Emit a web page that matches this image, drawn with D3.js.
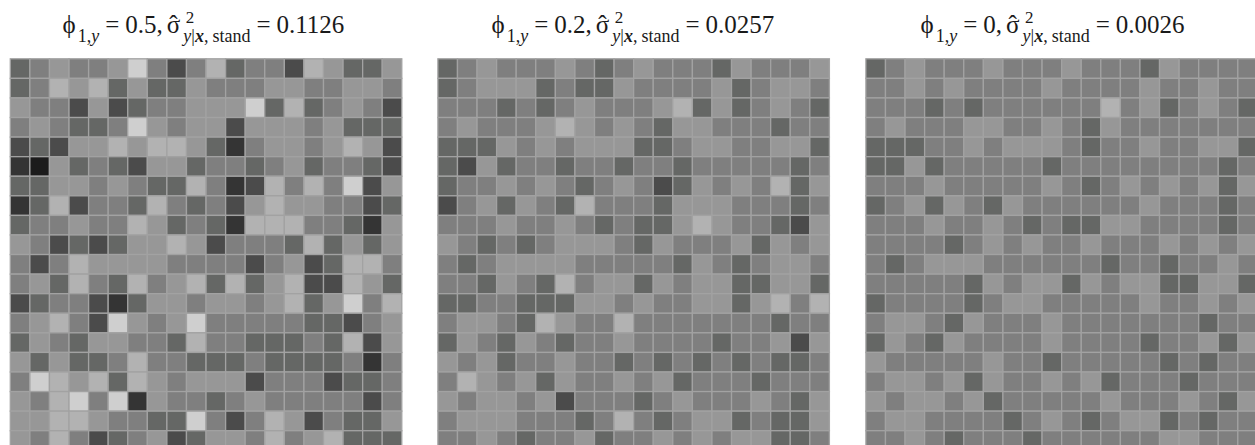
<!DOCTYPE html>
<html><head><meta charset="utf-8">
<script src="https://cdn.jsdelivr.net/npm/d3@7"></script>
<style>html,body{margin:0;padding:0;background:#fff;overflow:hidden}svg{display:block}text{font-family:"Liberation Serif",serif;fill:#1a1a1a}</style>
</head><body><svg id="c" width="1255" height="445"></svg>
<script>
const phiValues = ["0.5", "0.2", "0"];
const sigmaValues = ["0.1126", "0.0257", "0.0026"];
const rowIdx = d3.range(20), colIdx = d3.range(20);
const grayLevels = ["#1c1c1c","#343434","#4b4b4b","#656765","#7f7f7f","#979797","#b2b2b2","#cfcfcf"];
const panelA = [
[3,4,5,4,4,5,7,4,2,4,6,3,4,4,2,6,5,3,3,5],
[3,4,6,5,6,3,5,3,3,5,4,4,4,5,5,4,4,5,5,4],
[5,4,4,2,5,2,3,4,4,5,5,5,7,3,6,3,4,5,4,2],
[4,5,4,3,3,4,7,5,4,5,5,2,5,5,5,4,5,3,3,3],
[2,3,2,5,5,6,5,6,6,5,3,1,4,5,5,4,5,6,5,2],
[1,0,5,3,4,3,2,5,5,3,4,4,3,4,5,3,4,4,3,2],
[3,3,5,5,4,5,4,3,3,6,4,1,2,6,4,6,4,7,2,5],
[1,3,6,2,4,4,3,6,4,3,4,2,5,6,5,5,4,4,2,3],
[3,4,4,5,4,4,6,5,3,4,3,1,6,6,6,4,4,3,1,5],
[5,4,2,3,2,3,5,5,6,5,2,4,4,4,3,6,3,5,3,5],
[4,2,4,6,5,5,5,5,4,4,4,4,2,4,5,2,3,6,6,4],
[4,5,3,6,4,3,6,4,5,6,3,6,3,5,6,2,2,6,5,3],
[2,3,4,4,2,1,3,5,5,4,5,5,4,5,6,3,5,7,4,6],
[4,5,6,4,2,7,5,4,5,7,4,4,4,4,4,3,3,2,4,5],
[3,5,4,3,5,5,4,4,3,6,4,4,3,3,3,4,3,6,2,5],
[5,3,5,3,3,4,6,4,4,3,3,3,4,3,3,3,3,4,1,4],
[4,7,6,5,6,3,6,5,4,5,5,5,2,4,4,4,2,3,3,4],
[5,4,6,7,4,7,1,5,4,4,3,4,5,4,4,4,4,4,2,4],
[5,5,6,6,5,4,4,3,3,7,4,2,4,6,5,2,4,3,3,5],
[5,4,6,4,2,3,4,5,2,3,5,5,4,6,4,5,6,3,3,3]];
const panelB = [
[3,4,5,4,4,4,5,4,3,4,5,4,4,4,3,5,4,4,4,5],
[3,4,5,5,5,3,4,3,3,5,4,4,4,4,5,3,4,5,5,4],
[4,4,4,3,4,3,4,5,4,4,4,5,6,3,5,3,4,5,4,3],
[4,5,4,4,4,5,6,5,4,5,4,3,5,5,4,4,4,3,4,4],
[3,3,3,5,4,5,4,5,5,5,3,3,4,5,5,4,4,5,5,3],
[3,2,5,3,4,4,3,4,4,3,4,4,3,4,4,4,4,4,3,4],
[3,4,4,5,4,5,4,3,4,5,4,2,3,5,4,5,4,6,3,5],
[2,4,5,3,5,4,3,6,4,4,4,3,5,5,5,4,4,4,3,4],
[4,4,4,5,4,4,5,4,3,4,3,3,5,6,5,4,4,3,2,5],
[5,4,3,4,3,4,5,5,5,4,3,5,4,4,4,5,3,5,4,5],
[4,3,4,5,5,5,5,4,4,4,4,4,3,5,4,3,4,5,5,4],
[4,4,3,5,4,3,6,4,5,5,3,5,4,5,5,3,3,5,5,3],
[3,3,4,4,3,3,3,5,5,4,5,4,4,5,5,3,5,6,4,6],
[4,5,5,4,3,6,5,4,4,6,4,4,4,4,4,4,4,3,4,4],
[3,5,4,3,5,4,3,4,4,5,4,4,4,4,3,4,4,5,2,5],
[5,4,5,3,4,4,5,4,4,3,4,3,4,3,4,3,4,3,3,4],
[4,6,5,4,5,3,5,4,4,5,4,5,3,4,4,4,3,4,4,4],
[5,4,5,5,4,5,2,4,4,4,3,4,5,4,4,4,5,4,3,5],
[4,5,5,5,4,4,4,3,4,6,4,3,4,5,5,3,4,3,3,5],
[4,4,5,4,3,4,4,5,3,4,4,5,4,5,4,5,5,3,3,4]];
const panelC = [
[3,4,5,4,4,4,5,4,4,4,5,4,4,4,3,5,4,4,4,4],
[4,4,5,4,5,4,4,4,4,5,4,4,4,4,5,4,4,5,4,4],
[4,4,4,3,4,3,4,4,4,4,4,4,6,4,5,3,4,5,4,3],
[4,5,4,4,4,5,5,4,4,5,4,3,5,4,4,4,4,4,4,4],
[3,3,3,4,4,5,4,5,5,5,4,3,4,4,5,4,4,5,5,3],
[3,3,5,3,4,4,4,4,4,3,4,4,4,4,4,4,4,4,3,4],
[4,4,4,5,4,4,4,4,4,5,4,3,4,5,4,5,4,5,3,5],
[3,4,5,3,5,4,3,5,4,4,4,4,4,4,5,4,4,4,3,4],
[4,4,4,5,4,4,5,4,3,4,3,3,5,5,4,4,4,4,3,4],
[4,4,4,4,3,4,5,4,5,4,4,5,4,4,4,5,4,5,4,5],
[4,3,4,5,5,5,4,4,4,4,4,4,3,4,4,3,4,4,5,4],
[4,4,4,4,4,3,5,4,5,5,3,5,4,5,5,3,3,5,5,3],
[3,4,4,4,4,3,4,5,5,4,4,4,4,4,5,4,4,5,4,5],
[4,5,5,4,3,5,4,4,4,5,4,4,4,4,4,4,4,3,4,4],
[3,5,4,3,5,4,4,4,4,5,4,4,4,4,3,4,4,5,3,5],
[5,4,4,4,4,4,5,4,4,3,4,4,4,4,4,3,4,3,4,4],
[4,5,5,4,5,3,5,4,4,5,4,5,3,4,4,4,3,4,4,4],
[5,4,5,5,4,5,3,4,4,4,4,4,5,4,4,4,5,4,3,5],
[4,5,5,4,4,4,4,3,4,5,4,3,4,5,5,3,4,3,4,4],
[4,4,5,4,3,4,4,4,3,4,4,4,4,4,4,5,5,4,4,4]];
const panels = [panelA, panelB, panelC];

const svg = d3.select("#c");
const panelX = [10.3, 437.9, 865.9], titleX = [62.5, 491.5, 920.5];
const gridSize = 391.5, gridTop = 58.8;
const gray = d3.scaleOrdinal(d3.range(8), grayLevels);
const xBand = d3.scaleBand(colIdx, [0, gridSize]);
const yBand = d3.scaleBand(rowIdx, [0, gridSize]);

panels.forEach((data, p) => {
  const g = svg.append("g").attr("transform", `translate(${panelX[p]},${gridTop})`);
  const cells = data.flatMap((r, i) => r.map((v, j) => ({i, j, v})));
  g.selectAll("rect").data(cells).join("rect")
    .attr("x", d => xBand(d.j)).attr("y", d => yBand(d.i))
    .attr("width", xBand.bandwidth()).attr("height", yBand.bandwidth())
    .attr("fill", d => gray(d.v)).attr("stroke", "#a2a2a2").attr("stroke-width", 1.3);

  // title, laid out left to right from measured widths
  const t = svg.append("g");
  let cx = titleX[p];
  const base = 33.3, fs = 25, sub = 18, subDy = 8.7;
  const adv = (str, size, dy, style, weight) => {
    const e = t.append("text").attr("x", cx).attr("y", base + dy).attr("font-size", size)
      .attr("font-style", style || "normal").attr("font-weight", weight || "normal").text(str);
    cx += e.node().getComputedTextLength();
  };
  adv("ϕ", fs, 0); cx += 2;
  adv("1,", sub, subDy); adv("y", sub, subDy, "italic"); cx += 6;
  adv("=", fs, 0); cx += 6;
  adv(phiValues[p] + ",", fs, 0); cx += 4;
  // sigma with its hat in one text element
  const sig = t.append("text").attr("x", cx).attr("y", base).attr("font-size", fs);
  sig.append("tspan").text("σ");
  sig.append("tspan").attr("dx", -11).text("ˆ");
  const afterS = cx + 14;
  t.append("text").attr("x", afterS + 5).attr("y", base - 10).attr("font-size", sub - 1).text("2");
  cx = afterS + 2.5;
  adv("y", sub, subDy, "italic");
  adv("|", sub, subDy);
  adv("x", sub, subDy, "italic", "bold");
  adv(",", sub, subDy); cx += 4;
  adv("stand", sub, subDy); cx += 6;
  adv("=", fs, 0); cx += 6;
  adv(sigmaValues[p], fs, 0);
});
</script></body></html>
